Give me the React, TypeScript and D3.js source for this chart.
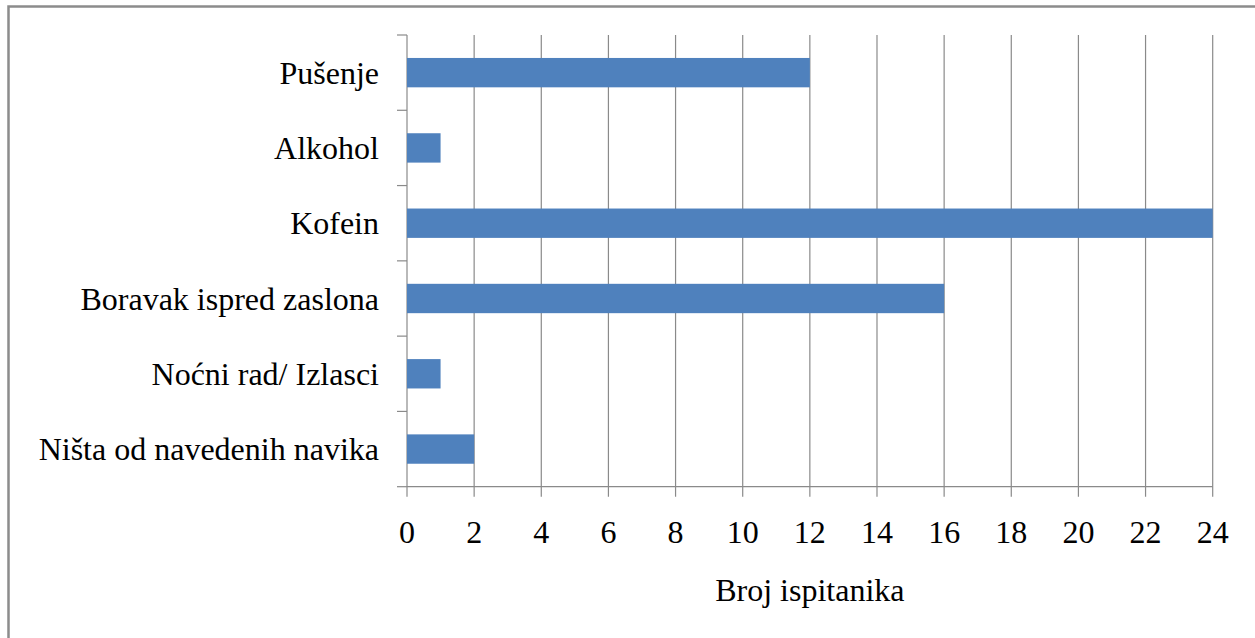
import React from "react";
import * as d3 from "d3";

const categories = [
  "Pušenje",
  "Alkohol",
  "Kofein",
  "Boravak ispred zaslona",
  "Noćni rad/ Izlasci",
  "Ništa od navedenih navika",
];
const values = [12, 1, 24, 16, 1, 2];
const xTicks = [0, 2, 4, 6, 8, 10, 12, 14, 16, 18, 20, 22, 24];
const xTitle = "Broj ispitanika";

export default function App() {
  const W = 1255, H = 638;
  const left = 407, right = 1212.7, top = 35, bottom = 486.7;
  const x = d3.scaleLinear().domain([0, 24]).range([left, right]);
  const y = d3.scaleBand<string>().domain(categories).range([top, bottom]).padding(0);
  const bw = y.bandwidth();
  const barH = bw * 0.39;
  const grid = "#8a8a8a";
  const ybounds = d3.range(categories.length + 1).map((i) => top + i * bw);
  return (
    <svg
      width={W}
      height={H}
      style={{ position: "absolute", left: 0, top: 0, fontFamily: "Liberation Serif, Tinos, Times New Roman, serif" }}
      fontSize={32}
    >
      <rect x={0} y={0} width={W} height={H} fill="#fff" />
      <rect x={8.5} y={6.5} width={W + 20} height={H + 20} fill="none" stroke="#8c8c8c" strokeWidth={2.5} />
      {xTicks.map((t) => (
        <line key={"g" + t} x1={x(t)} x2={x(t)} y1={top} y2={bottom + 10} stroke={grid} strokeWidth={1.2} />
      ))}
      <line x1={left} x2={right} y1={bottom} y2={bottom} stroke={grid} strokeWidth={1.2} />
      {ybounds.map((yy, i) => (
        <line key={"yt" + i} x1={left - 10} x2={left} y1={yy} y2={yy} stroke={grid} strokeWidth={1.2} />
      ))}
      {categories.map((c, i) => (
        <rect
          key={c}
          x={x(0)}
          y={(y(c) as number) + bw / 2 - barH / 2}
          width={x(values[i]) - x(0)}
          height={barH}
          fill="#4F81BD"
        />
      ))}
      {categories.map((c) => (
        <text key={"l" + c} x={379} y={(y(c) as number) + bw / 2} dy="0.35em" textAnchor="end" fill="#000">
          {c}
        </text>
      ))}
      {xTicks.map((t) => (
        <text key={"t" + t} x={x(t)} y={543} textAnchor="middle" fill="#000">
          {t}
        </text>
      ))}
      <text x={(left + right) / 2} y={601} textAnchor="middle" fill="#000">
        {xTitle}
      </text>
    </svg>
  );
}
